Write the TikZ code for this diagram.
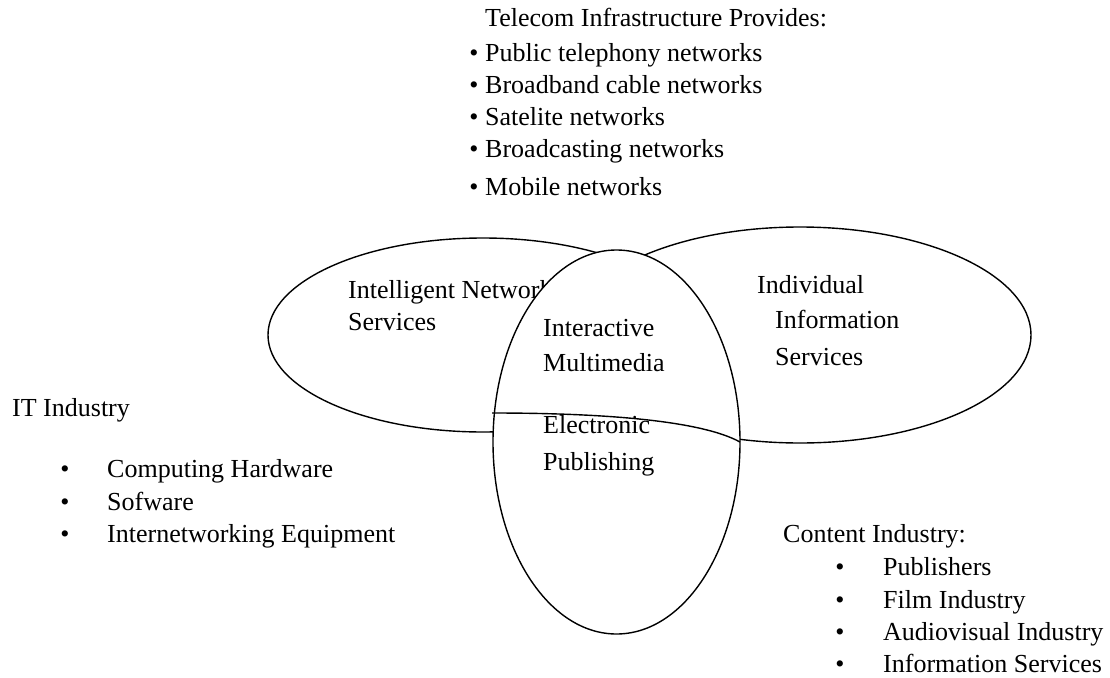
\documentclass[tikz,border=0pt]{standalone}
\usepackage{fontspec}
\setmainfont{Liberation Serif}
\usetikzlibrary{shapes.geometric}
\begin{document}
\begin{tikzpicture}[x=1pt,y=-1pt,
  lbl/.style={anchor=base west, inner sep=0pt, font=\fontsize{26}{32}\selectfont},
  bul/.style={anchor=base, inner sep=0pt, font=\fontsize{26}{32}\selectfont},
  oval/.style={ellipse, draw, line width=1.4pt, fill=white, inner sep=0pt, outer sep=0pt}]
\useasboundingbox (0,0) rectangle (1110,677);

% left ellipse
\node[oval, minimum width=430pt, minimum height=194pt] (left) at (483,335) {};
\node[lbl] (ins1) at (348,298) {Intelligent Network};
\node[lbl] (ins2) at (348,330) {Services};
% right ellipse
\node[oval, minimum width=462pt, minimum height=216pt] (right) at (800,335) {};
% middle ellipse
\node[oval, minimum width=247pt, minimum height=384pt] (mid) at (616.5,442) {};
\coordinate (cl) at (492,413);
\draw[line width=1.4pt] (cl) .. controls (600,413) and (700,420) .. (mid.east);

\node[lbl] (im1) at (543,336) {Interactive};
\node[lbl] (im2) at (543,371) {Multimedia};
\node[lbl] (ep1) at (543,433) {Electronic};
\node[lbl] (ep2) at (543,470) {Publishing};
\node[lbl] (iis1) at (757,293) {Individual};
\node[lbl] (iis2) at (775,328) {Information};
\node[lbl] (iis3) at (775,365) {Services};

% telecom
\node[lbl] (tel) at (485,27) {Telecom Infrastructure Provides:};
\foreach \t/\y [count=\i] in {Public telephony networks/62, Broadband cable networks/93, Satelite networks/125, Broadcasting networks/157, Mobile networks/195}{
  \node[bul] (telb\i) at (474,\y) {•};
  \node[lbl] (tel\i) at (485,\y) {\t};
}

% IT industry
\node[lbl] (it) at (12,416) {IT Industry};
\foreach \t/\y [count=\i] in {Computing Hardware/477, Sofware/510, Internetworking Equipment/542}{
  \node[bul] (itb\i) at (65,\y) {•};
  \node[lbl] (it\i) at (107,\y) {\t};
}

% content industry
\node[lbl] (ci) at (783,542) {Content Industry:};
\foreach \t/\y [count=\i] in {Publishers/575, Film Industry/608, Audiovisual Industry/640, Information Services/672}{
  \node[bul] (cib\i) at (840,\y) {•};
  \node[lbl] (ci\i) at (883,\y) {\t};
}
\end{tikzpicture}
\end{document}
